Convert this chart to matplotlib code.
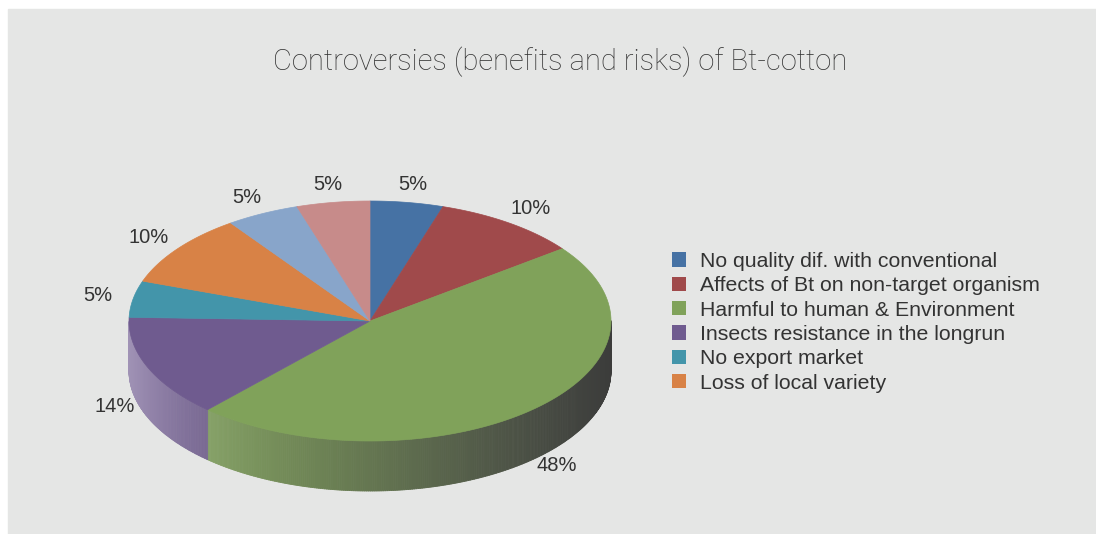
import numpy as np
import matplotlib.pyplot as plt
from matplotlib.patches import Polygon, Rectangle, Patch
from matplotlib.collections import PolyCollection
from matplotlib.colors import to_rgb

# slice values (percent) clockwise from 12 o'clock
values = [5, 10, 48, 14, 5, 10, 5, 5]
pct_labels = ["5%", "10%", "48%", "14%", "5%", "10%", "5%", "5%"]
legend_labels = ["No quality dif. with conventional",
                 "Affects of Bt on non-target organism",
                 "Harmful to human & Environment",
                 "Insects resistance in the longrun",
                 "No export market",
                 "Loss of local variety"]
colors = ['#4672a4', '#a04a4b', '#80a25a', '#6f5b8f',
          '#4395aa', '#d88246', '#88a5ca', '#c78b8a']

bg = '#e5e6e5'
text_col = '#333333'
dark = np.array(to_rgb('#383838'))

fig = plt.figure(figsize=(10.96, 5.34), dpi=100)
fig.patch.set_facecolor('white')
ax = fig.add_axes([0, 0, 1, 1])
ax.set_xlim(0, 1096)
ax.set_ylim(534, 0)
ax.axis('off')
ax.add_patch(Rectangle((8, 9), 1100, 540, color=bg, zorder=0))

# pie geometry (pixels)
cx, cy = 370, 321
rx, ry = 241, 120
depth = 50

frac = np.array(values, dtype=float) / sum(values)
bounds = 90 - 360 * np.concatenate([[0], np.cumsum(frac)])


def edge(t):
    r = np.radians(t)
    return cx + rx * np.cos(r), cy - ry * np.sin(r)


def side_color(base, t):
    u = (np.cos(np.radians(t)) + 1) / 2
    c = np.array(to_rgb(base))
    light = c + (1 - c) * 0.34 * (1 - u) ** 6
    grey = light.mean()
    light = light * (1 - 0.6 * u ** 2) + grey * 0.6 * u ** 2
    return light * (1 - 0.95 * u ** 1.3) + dark * 0.95 * u ** 1.3


# side walls (front half only)
polys, fcs = [], []
for i in range(len(values)):
    a0, a1 = bounds[i], bounds[i + 1]
    ts = np.arange(a1, a0, 0.5)
    ts = np.append(ts, a0)
    for t0, t1 in zip(ts[:-1], ts[1:]):
        tm = (t0 + t1) / 2
        if np.sin(np.radians(tm)) >= 0:
            continue
        x0, y0 = edge(t0)
        x1, y1 = edge(t1)
        polys.append([(x0, y0), (x1, y1), (x1, y1 + depth), (x0, y0 + depth)])
        fcs.append(side_color(colors[i], tm))
ax.add_collection(PolyCollection(polys, facecolors=fcs, edgecolors=fcs,
                                 linewidths=0.6, zorder=1))

# top surface
for i in range(len(values)):
    ts = np.linspace(bounds[i], bounds[i + 1], 120)
    pts = [(cx, cy)] + [edge(t) for t in ts]
    ax.add_patch(Polygon(pts, closed=True, facecolor=colors[i],
                         edgecolor=colors[i], linewidth=0.5, zorder=2))

# percentage labels
k = 1.15
for i, lab in enumerate(pct_labels):
    tm = np.radians((bounds[i] + bounds[i + 1]) / 2)
    x = cx + k * rx * np.cos(tm)
    y = cy - k * ry * np.sin(tm)
    if np.sin(tm) < 0:
        y += depth * np.sqrt(-np.sin(tm))
    ax.text(x, y, lab, ha='center', va='center', fontsize=14.5,
            color=text_col, family=['Liberation Sans', 'DejaVu Sans'], zorder=3)

ax.text(560, 62, "Controversies (benefits and risks) of Bt-cotton",
        ha='center', va='center', fontsize=21, color=text_col,
        family=['Roboto', 'Liberation Sans'], fontweight='light')

handles = [Patch(facecolor=colors[i], edgecolor='none', label=legend_labels[i])
           for i in range(len(legend_labels))]
leg = fig.legend(handles=handles, loc='upper left',
                 bbox_to_anchor=(672 / 1096, 1 - 252 / 534), frameon=False,
                 prop={'family': ['Liberation Sans', 'DejaVu Sans'], 'size': 15.3},
                 handlelength=0.66, handleheight=0.66, handletextpad=0.66,
                 labelspacing=0.25, borderpad=0, borderaxespad=0)
for t in leg.get_texts():
    t.set_color(text_col)

fig.savefig('out.png', dpi=100, facecolor=fig.get_facecolor())
